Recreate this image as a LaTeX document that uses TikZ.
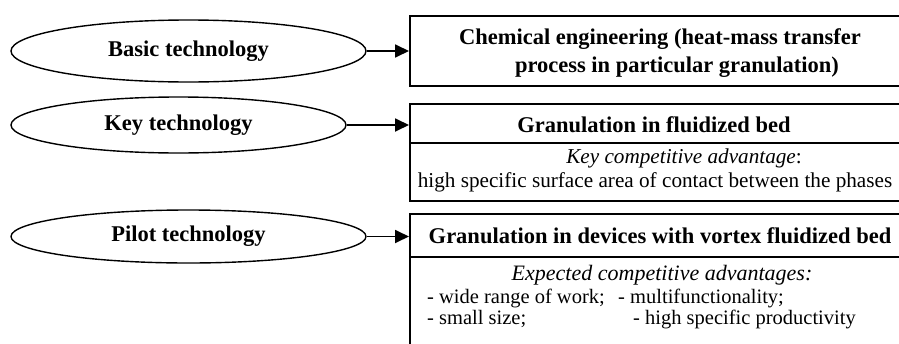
\documentclass[tikz,border=0pt]{standalone}
\usepackage{fontspec}
\setmainfont{Liberation Serif}
\usetikzlibrary{shapes.geometric,arrows.meta}
\begin{document}
\begin{tikzpicture}[x=1pt,y=-1pt,
  tech/.style={ellipse,draw,line width=1.4pt,inner sep=0pt,
    font=\fontsize{22.5}{26}\selectfont\bfseries},
  cell/.style={draw,line width=1.8pt,inner sep=0pt,anchor=north west},
  link/.style={line width=1.8pt,-{Triangle[length=14pt,width=13pt]}},
  head/.style={font=\fontsize{22.5}{27}\selectfont\bfseries,anchor=base,inner sep=0pt},
  body/.style={font=\fontsize{21.2}{24}\selectfont,anchor=base,inner sep=0pt},
  item/.style={font=\fontsize{20.5}{24}\selectfont,anchor=base west,inner sep=0pt}]
\useasboundingbox (0,0) rectangle (899,343);
\clip (0,0) rectangle (899,343);

% technology levels
\node[tech,minimum width=355pt,minimum height=62pt] (e1) at (188.5,51) {Basic technology};
\node[tech,minimum width=335pt,minimum height=56pt] (e2) at (178.5,125) {Key technology};
\node[tech,minimum width=355pt,minimum height=53pt] (e3) at (188.5,236.5) {Pilot technology};

% description boxes (they run past the right edge)
\node[cell,minimum width=580pt,minimum height=70pt] (b1) at (409,15) {};
\node[cell,minimum width=510pt,minimum height=39pt] (b2t) at (409,103) {};
\node[cell,minimum width=510pt,minimum height=58pt] (b2b) at (409,142) {};
\node[cell,minimum width=510pt,minimum height=43pt] (b3t) at (409,213) {};
\node[cell,minimum width=510pt,minimum height=200pt] (b3b) at (409,256) {};

% box texts
\node[head] (t1a) at (660,44) {Chemical engineering (heat-mass transfer};
\node[head] (t1b) at (677,72) {process in particular granulation)};
\node[head] (t2) at (654,132) {Granulation in fluidized bed};
\node[body] (t2a) at (684,163) {{\itshape Key competitive advantage}:};
\node[body] (t2b) at (655,187) {high specific surface area of contact between the phases};
\node[head] (t3) at (660,243) {Granulation in devices with vortex fluidized bed};
\node[body,font=\fontsize{22}{26}\selectfont\itshape] (t3a) at (662,280) {Expected competitive advantages:};
\node[item] (l1) at (427,303) {- wide range of work;};
\node[item] (l2) at (618,303) {- multifunctionality;};
\node[item] (l3) at (427,324) {- small size;};
\node[item] (l4) at (633,324) {- high specific productivity};

% connectors
\draw[link] (e1.east) -- (e1.east -| b1.west);
\draw[link] (e2.east) -- (e2.east -| b2t.west);
\draw[link] (e3.east) -- (e3.east -| b3t.west);
\end{tikzpicture}
\end{document}
